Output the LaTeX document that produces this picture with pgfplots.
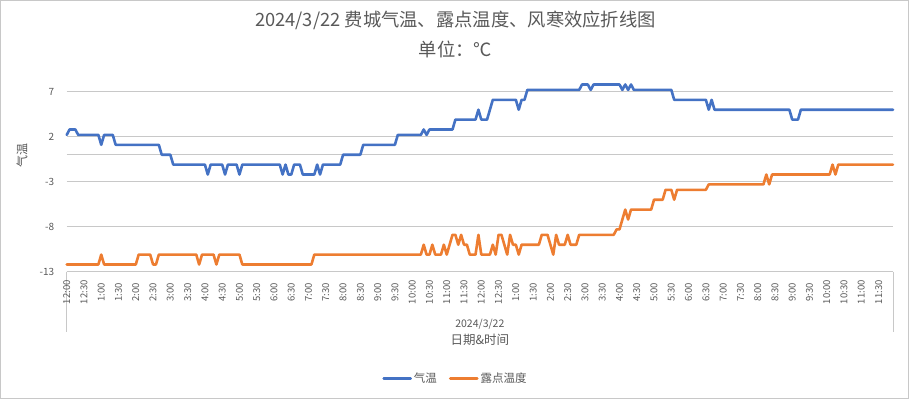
\documentclass[border=0pt]{standalone}
\usepackage{fontspec}
\setmainfont{Noto Sans CJK SC}
\usepackage{pgfplots}
\pgfplotsset{compat=1.18}
\definecolor{sblue}{HTML}{4472C4}
\definecolor{sorange}{HTML}{ED7D31}
\definecolor{txt}{HTML}{595959}
\definecolor{grd}{HTML}{C8C8C8}
\begin{document}
\begin{tikzpicture}[x=1pt,y=1pt]
\useasboundingbox (0,0) rectangle (909,399);
\draw[color=grd, line width=1pt] (0.5,0.5) rectangle (908.5,398.5);
\draw[color=grd, line width=1pt] (66.7,127.3) -- (66.7,67.3);
\draw[color=grd, line width=1pt] (893,127.3) -- (893,67.3);
\begin{axis}[
  at={(66.7pt,127.3pt)}, anchor=south west,
  scale only axis, width=826.3pt, height=193.5pt,
  xmin=0, xmax=287, ymin=-13, ymax=8.5,
  clip=false,
  axis line style={draw=none},
  major tick length=0pt,
  ytick={-13,-8,-3,2,7}, yticklabels={-13,-8,-3,2,7},
  extra y ticks={0}, extra y tick labels={},
  extra y tick style={grid=major, major grid style={draw=grd, line width=1pt}},
  ymajorgrids,
  major grid style={draw=grd, line width=1pt},
  yticklabel style={font=\fontsize{10}{12}\selectfont, text=txt, xshift=-9pt},
  xtick={0,6,...,282},
  xticklabels={12:00,12:30,1:00,1:30,2:00,2:30,3:00,3:30,4:00,4:30,5:00,5:30,6:00,6:30,7:00,7:30,8:00,8:30,9:00,9:30,10:00,10:30,11:00,11:30,12:00,12:30,1:00,1:30,2:00,2:30,3:00,3:30,4:00,4:30,5:00,5:30,6:00,6:30,7:00,7:30,8:00,8:30,9:00,9:30,10:00,10:30,11:00,11:30},
  xticklabel shift=20.5pt,
  xticklabel style={font=\fontsize{9.5}{11}\selectfont, text=txt, rotate=90, anchor=center},
  title={2024/3/22 费城气温、露点温度、风寒效应折线图\\单位：℃},
  title style={font=\fontsize{18.3}{30}\selectfont, text=txt, align=center, at={(axis description cs:0.4705,1.195)}, anchor=center},
  xlabel={\fontsize{10.5}{19}\selectfont 2024/3/22\\[4pt]\fontsize{12.5}{19}\selectfont 日期\&时间},
  xlabel style={text=txt, align=center, at={(axis description cs:0.5,0)}, anchor=north, yshift=-44pt},
  ylabel={气温},
  ylabel style={font=\fontsize{12}{14}\selectfont, text=txt, at={(axis description cs:-0.0541,0.603)}, anchor=center},
  legend style={at={(axis description cs:0.4705,-0.553)}, anchor=center, draw=none, fill=none, legend columns=2, font=\fontsize{11.5}{13}\selectfont, text=txt, /tikz/every even column/.append style={column sep=10pt}},
  legend image code/.code={\draw[#1, line width=2.6pt] (0pt,0pt) -- (27pt,0pt);},
]
\addplot[sblue, line width=2.6pt, line join=round, line cap=round] coordinates {
(0,2.2) (1,2.8) (3,2.8) (4,2.2) (11,2.2) (12,1.1) (13,2.2) (16,2.2) (17,1.1) (32,1.1) (33,0) (36,0) (37,-1.1)
(48,-1.1) (49,-2.2) (50,-1.1) (54,-1.1) (55,-2.2) (56,-1.1) (59,-1.1) (60,-2.2) (61,-1.1) (74,-1.1) (75,-2.2) (76,-1.1)
(77,-2.2) (78,-2.2) (79,-1.1) (81,-1.1) (82,-2.2) (86,-2.2) (87,-1.1) (88,-2.2) (89,-1.1) (95,-1.1) (96,0) (102,0)
(103,1.1) (114,1.1) (115,2.2) (123,2.2) (124,2.8) (125,2.2) (126,2.8) (134,2.8) (135,3.9) (142,3.9) (143,5.0) (144,3.9)
(146,3.9) (147,5.0) (148,6.1) (156,6.1) (157,5.0) (158,6.1) (159,6.1) (160,7.2) (178,7.2) (179,7.8) (181,7.8) (182,7.2)
(183,7.8) (192,7.8) (193,7.2) (194,7.8) (195,7.2) (196,7.8) (197,7.2) (210,7.2) (211,6.1) (222,6.1) (223,5.0) (224,6.1)
(225,5.0) (251,5.0) (252,3.9) (254,3.9) (255,5.0) (287,5.0)
};
\addlegendentry{气温}
\addplot[sorange, line width=2.6pt, line join=round, line cap=round] coordinates {
(0,-12.2) (11,-12.2) (12,-11.1) (13,-12.2) (24,-12.2) (25,-11.1) (29,-11.1) (30,-12.2) (31,-12.2) (32,-11.1) (45,-11.1)
(46,-12.2) (47,-11.1) (51,-11.1) (52,-12.2) (53,-11.1) (60,-11.1) (61,-12.2) (85,-12.2) (86,-11.1) (123,-11.1)
(124,-10.0) (125,-11.1) (126,-11.1) (127,-10.0) (128,-11.1) (130,-11.1) (131,-10.0) (132,-11.1) (133,-10.0)
(134,-8.9) (135,-8.9) (136,-10.0) (137,-8.9) (138,-10.0) (139,-10.0) (140,-11.1) (142,-11.1) (143,-8.9) (144,-11.1)
(147,-11.1) (148,-10.0) (149,-11.1) (150,-8.9) (151,-8.9) (152,-10.0) (153,-11.1) (154,-8.9) (155,-10.0) (156,-10.0)
(157,-11.1) (158,-10.0) (164,-10.0) (165,-8.9) (167,-8.9) (168,-10.0) (169,-11.1) (170,-8.9) (171,-10.0) (173,-10.0)
(174,-8.9) (175,-10.0) (177,-10.0) (178,-8.9) (190,-8.9) (191,-8.3) (192,-8.3) (193,-7.2) (194,-6.1) (195,-7.2)
(196,-6.1) (203,-6.1) (204,-5.0) (207,-5.0) (208,-3.9) (210,-3.9) (211,-5.0) (212,-3.9) (222,-3.9) (223,-3.3)
(242,-3.3) (243,-2.2) (244,-3.3) (245,-2.2) (265,-2.2) (266,-1.1) (267,-2.2) (268,-1.1) (287,-1.1)
};
\addlegendentry{露点温度}
\end{axis}
\end{tikzpicture}
\end{document}
